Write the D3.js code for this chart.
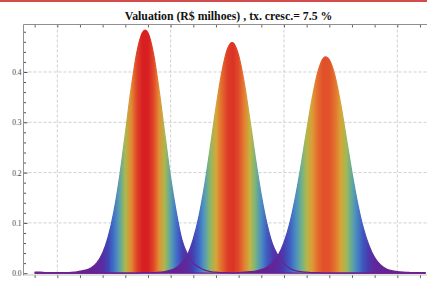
<!DOCTYPE html>
<html><head><meta charset="utf-8">
<script src="https://cdn.jsdelivr.net/npm/d3@7"></script>
<style>html,body{margin:0;padding:0;background:#fff;}svg{display:block;}</style>
</head><body><svg id="c" width="427" height="281"></svg>
<script>
const titleText = "Valuation (R$ milhoes) , tx. cresc.= 7.5 %";
const xs = [9.00,9.25,9.50,9.75,10.00,10.25,10.50,10.75,11.00,11.25,11.50,11.75,12.00,12.25,12.50,12.75,13.00,13.25,13.50,13.75,14.00,14.25,14.50,14.75,15.00,15.25,15.50,15.75,16.00,16.25,16.50,16.75,17.00,17.25,17.50,17.75,18.00,18.25,18.50,18.75,19.00,19.25,19.50,19.75,20.00,20.25,20.50,20.75,21.00,21.25,21.50,21.75,22.00,22.25,22.50,22.75,23.00,23.25,23.50,23.75,24.00,24.25,24.50,24.75,25.00,25.25,25.50,25.75,26.00,26.25];
const serie1 = [0.002,0.002,0.001,0.001,0.001,0.001,0.001,0.002,0.004,0.006,0.011,0.021,0.040,0.073,0.123,0.192,0.277,0.365,0.437,0.478,0.478,0.435,0.361,0.274,0.190,0.121,0.066,0.037,0.020,0.012,0.006,0.003,0.002,0.001,0.001,0,0,0,0,0,0,0,0,0,0,0,0,0,0,0,0,0,0,0,0,0,0,0,0,0,0,0,0,0,0,0,0,0,0,0];
const serie2 = [0,0,0,0,0,0,0,0,0,0,0,0,0,0,0,0,0,0,0,0.001,0.001,0.001,0.002,0.003,0.006,0.011,0.021,0.037,0.068,0.113,0.175,0.250,0.329,0.398,0.445,0.458,0.433,0.378,0.304,0.226,0.155,0.098,0.057,0.034,0.019,0.010,0.005,0.003,0.002,0.001,0.001,0,0,0,0,0,0,0,0,0,0,0,0,0,0,0,0,0,0,0];
const serie3 = [0,0,0,0,0,0,0,0,0,0,0,0,0,0,0,0,0,0,0,0,0,0,0,0,0,0,0,0,0,0,0,0,0,0,0,0,0.001,0.002,0.003,0.004,0.007,0.012,0.021,0.036,0.061,0.098,0.150,0.213,0.283,0.349,0.401,0.428,0.424,0.392,0.337,0.269,0.200,0.139,0.090,0.055,0.031,0.017,0.009,0.005,0.003,0.002,0.0015,0.001,0.001,0.001];
const yMajorTicks = [0.0,0.1,0.2,0.3,0.4];
const yMinorTicks = [0.02,0.04,0.06,0.08,0.12,0.14,0.16,0.18,0.22,0.24,0.26,0.28,0.32,0.34,0.36,0.38,0.42,0.44,0.46,0.48];
const xTicks = [9,10,11,12,13,14,15,16,17,18,19,20,21,22,23,24,25,26];
const xGrid = [10,15,20,25];
const yGrid = [0.1,0.2,0.3,0.4];

const rainbowPos = [0,0.08,0.15,0.25,0.35,0.45,0.55,0.65,0.75,0.85,1];
const rainbowCol = ["#6a1f8e","#5a2ba0","#3f45b5","#3f6fcb","#4f98bf","#6ab08f","#9bbb55","#cdb43c","#e39334","#e4642c","#d81f22"];

const svg = d3.select("#c");
const L = 23.5, T = 24.5, B = 275, R = 428;
const x = d3.scaleLinear().domain([10,25]).range([57.3,397.3]);
const y = d3.scaleLinear().domain([0,0.4954]).range([273.2,24]);
const series = [serie1, serie2, serie3];
const vmax = d3.max(series.flat());
const color = d3.scaleLinear().domain(rainbowPos).range(rainbowCol).interpolate(d3.interpolateRgb);

// top red bar
svg.append("rect").attr("x",0).attr("y",0).attr("width",427).attr("height",2).attr("fill","#d24c4c");

// grid
const g = svg.append("g");
g.selectAll(".gx").data(xGrid).join("line")
  .attr("x1",d=>x(d)).attr("x2",d=>x(d)).attr("y1",T).attr("y2",B)
  .attr("stroke","#cfcfcf").attr("stroke-dasharray","3,2");
g.selectAll(".gy").data(yGrid).join("line")
  .attr("x1",L).attr("x2",R).attr("y1",d=>y(d)).attr("y2",d=>y(d))
  .attr("stroke","#cfcfcf").attr("stroke-dasharray","3,2");

// gradients
const defs = svg.append("defs");
series.forEach((s,i)=>{
  const x0 = x(xs[0]), x1 = x(xs[xs.length-1]);
  const grad = defs.append("linearGradient").attr("id","gr"+i)
    .attr("gradientUnits","userSpaceOnUse")
    .attr("x1",x0).attr("x2",x1).attr("y1",0).attr("y2",0);
  grad.selectAll("stop").data(s).join("stop")
    .attr("offset",(d,j)=>(x(xs[j])-x0)/(x1-x0))
    .attr("stop-color",d=>color(Math.max(0,d)/vmax));
});

const area = d3.area().x((d,j)=>x(xs[j])).y0(y(0)).y1(d=>y(d)).curve(d3.curveCardinal.tension(0));
const line = d3.line().x((d,j)=>x(xs[j])).y(d=>y(d)).curve(d3.curveCardinal.tension(0));

series.forEach((s,i)=>{
  svg.append("path").datum(s).attr("d",area).attr("fill","url(#gr"+i+")");
});
series.forEach((s,i)=>{
  svg.append("path").datum(s).attr("d",line).attr("fill","none")
    .attr("stroke","url(#gr"+i+")").attr("stroke-width",1.2);
});

// frame & axes
const axColor = "#8f8f8f";
const leftAx = svg.append("g").attr("transform",`translate(${L},0)`)
  .call(d3.axisLeft(y).tickValues(yMajorTicks).tickSize(-4).tickPadding(2).tickFormat(d3.format(".1f")));
leftAx.select(".domain").remove();
leftAx.selectAll("line").attr("stroke","#555");
leftAx.selectAll("text").attr("font-family","'Liberation Serif','Times New Roman',serif").attr("font-size","7.5px").attr("fill","#444");
const leftMinor = svg.append("g").attr("transform",`translate(${L},0)`)
  .call(d3.axisLeft(y).tickValues(yMinorTicks).tickSize(-2.5).tickFormat(""));
leftMinor.select(".domain").remove();
leftMinor.selectAll("line").attr("stroke","#555");

const topAx = svg.append("g").attr("transform",`translate(0,${T})`)
  .call(d3.axisTop(x).tickValues(xTicks).tickSize(-3).tickFormat(""));
topAx.select(".domain").remove();
topAx.selectAll("line").attr("stroke","#666");
const botAx = svg.append("g").attr("transform",`translate(0,${B})`)
  .call(d3.axisBottom(x).tickValues(xTicks).tickSize(3).tickFormat(""));
botAx.select(".domain").remove();
botAx.selectAll("line").attr("stroke","#666");

svg.append("line").attr("x1",L).attr("x2",L).attr("y1",T).attr("y2",B+0.5).attr("stroke",axColor).attr("stroke-width",1);
svg.append("line").attr("x1",L).attr("x2",R).attr("y1",T).attr("y2",T).attr("stroke",axColor).attr("stroke-width",1);
svg.append("line").attr("x1",L).attr("x2",R).attr("y1",B).attr("y2",B).attr("stroke","#b5b5b5").attr("stroke-width",0.8);

svg.append("text").attr("x",228.5).attr("y",20).attr("text-anchor","middle")
  .attr("font-family","'Liberation Serif','Times New Roman',serif").attr("font-weight","bold")
  .attr("font-size","11.8px").attr("fill","#111").text(titleText);
</script></body></html>
